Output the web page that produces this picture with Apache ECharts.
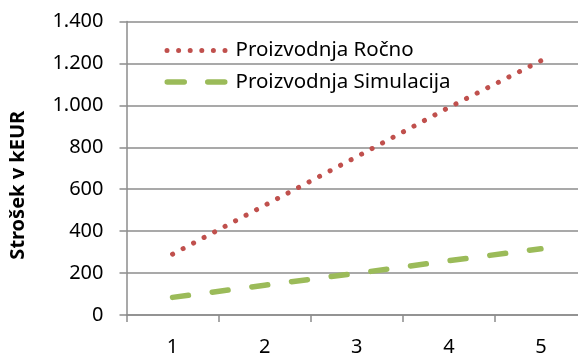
<!DOCTYPE html>
<html>
<head>
<meta charset="utf-8">
<script src="https://cdn.jsdelivr.net/npm/echarts@6/dist/echarts.min.js"></script>
<style>
html,body{margin:0;padding:0;background:#fff;}
#chart{width:578px;height:354px;}
</style>
</head>
<body>
<div id="chart"></div>
<script>
var categories = ['1', '2', '3', '4', '5'];
var rocno = [290, 523, 755, 990, 1213];
var simulacija = [84, 142, 199, 259, 316];
var seriesNames = ['Proizvodnja Ročno', 'Proizvodnja Simulacija'];
var yAxisTitle = 'Strošek v kEUR';

var FONT = '"Noto Sans", "Liberation Sans", sans-serif';
var GRAY = '#8c8c8c';

function fmt(v) {
  return String(v).replace(/\B(?=(\d{3})+(?!\d))/g, '.');
}

// legend icons (shapes only)
function dotsPath(n, r, step) {
  var p = '';
  for (var i = 0; i < n; i++) {
    var cx = r + i * step;
    p += 'M' + (cx - r) + ' ' + r + 'A' + r + ' ' + r + ' 0 1 0 ' + (cx + r) + ' ' + r +
         'A' + r + ' ' + r + ' 0 1 0 ' + (cx - r) + ' ' + r + 'Z';
  }
  return 'path://' + p;
}
function dashPath(n, len, h, step) {
  var r = h / 2, p = '';
  for (var i = 0; i < n; i++) {
    var x0 = i * step;
    p += 'M' + (x0 + r) + ' 0H' + (x0 + len - r) + 'A' + r + ' ' + r + ' 0 0 1 ' + (x0 + len - r) + ' ' + h +
         'H' + (x0 + r) + 'A' + r + ' ' + r + ' 0 0 1 ' + (x0 + r) + ' 0Z';
  }
  return 'path://' + p;
}

var chart = echarts.init(document.getElementById('chart'), null, {renderer: 'canvas'});
chart.setOption({
  animation: false,
  backgroundColor: '#fff',
  grid: {left: 126.5, top: 21.5, bottom: 39, right: -9, containLabel: false, outerBoundsMode: 'none'},
  legend: {
    left: 159.5,
    top: 35,
    orient: 'vertical',
    itemGap: 10.5,
    itemWidth: 63,
    itemHeight: 5.5,
    textStyle: {fontFamily: FONT, fontSize: 20.5, color: '#000', padding: [0, 0, 0, 3], lineHeight: 21},
    data: [
      {name: seriesNames[0], icon: dotsPath(6, 2.5, 11.6)},
      {name: seriesNames[1], icon: dashPath(2, 22.5, 5.5, 40.5)}
    ]
  },
  xAxis: {
    type: 'category',
    data: categories,
    boundaryGap: true,
    axisLine: {lineStyle: {color: GRAY, width: 1.5}},
    axisTick: {show: true, length: 7, lineStyle: {color: GRAY, width: 1.5}},
    axisLabel: {fontFamily: FONT, fontSize: 20, color: '#000', margin: 22}
  },
  yAxis: {
    type: 'value',
    min: 0,
    max: 1400,
    interval: 200,
    name: yAxisTitle,
    nameLocation: 'middle',
    nameRotate: 90,
    nameGap: 98,
    nameTextStyle: {fontFamily: FONT, fontSize: 20, fontWeight: 'bold', color: '#000', padding: [0, 34, 0, 0]},
    axisLine: {show: true, lineStyle: {color: GRAY, width: 1.5}},
    axisTick: {show: true, length: 7, lineStyle: {color: GRAY, width: 1.5}},
    axisLabel: {fontFamily: FONT, fontSize: 20, color: '#000', margin: 23, formatter: fmt},
    splitLine: {show: true, lineStyle: {color: GRAY, width: 1.5}}
  },
  series: [
    {
      name: seriesNames[0],
      type: 'line',
      data: rocno,
      symbol: 'none',
      color: '#C0504D',
      lineStyle: {color: '#C0504D', width: 5, type: [0.1, 11.78], cap: 'round'}
    },
    {
      name: seriesNames[1],
      type: 'line',
      data: simulacija,
      symbol: 'none',
      color: '#9BBB59',
      lineStyle: {color: '#9BBB59', width: 5.5, type: [16, 24], cap: 'round'}
    }
  ]
});
</script>
</body>
</html>
